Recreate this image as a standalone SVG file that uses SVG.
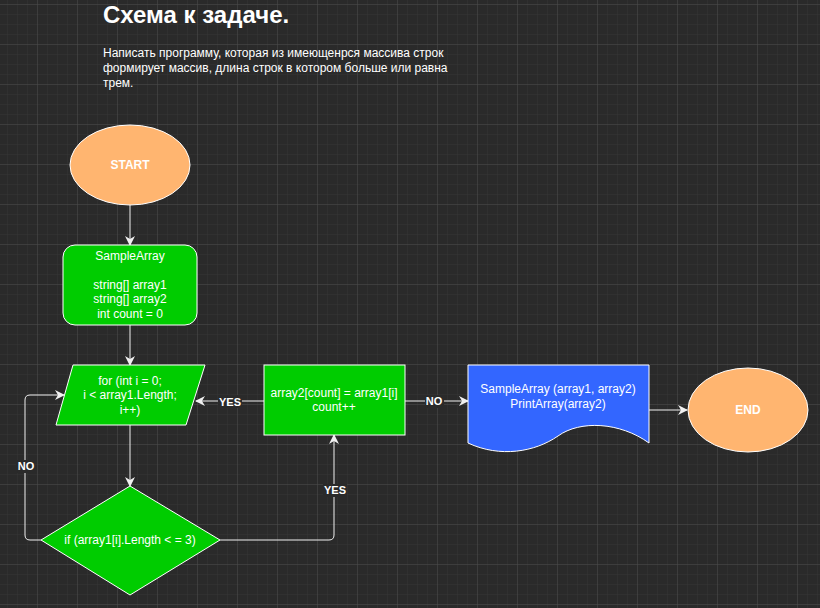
<svg xmlns="http://www.w3.org/2000/svg" width="820" height="608" viewBox="0 0 820 608">
<defs>
<pattern id="minor" x="-2" y="5" width="10" height="10" patternUnits="userSpaceOnUse">
<path d="M10 0V10M0 10H10" fill="none" stroke="#353535" stroke-width="1"/>
</pattern>
<pattern id="major" x="-2" y="5" width="40" height="40" patternUnits="userSpaceOnUse">
<path d="M40 0V40M0 40H40" fill="none" stroke="#4a4a4a" stroke-width="1"/>
</pattern>
<marker id="arr" viewBox="0 0 10 10" refX="9" refY="5" markerWidth="10" markerHeight="10" markerUnits="userSpaceOnUse" orient="auto">
<path d="M0 0L10 5L0 10L3 5Z" fill="#f0f0f0"/>
</marker>
<style>
text{font-family:"Liberation Sans",Arial,sans-serif;fill:#ffffff}
.n{stroke:#ffffff;stroke-width:1}
.g{fill:#00cc00}
.o{fill:#ffb570}
.t{font-size:12px;text-anchor:middle}
.b{font-weight:bold}
.c{fill:none;stroke:#f0f0f0;stroke-width:1;marker-end:url(#arr)}
.l{font-size:11px;font-weight:bold;text-anchor:middle}
.lb{fill:#2a2a2a}
</style>
</defs>
<rect width="820" height="608" fill="#2a2a2a"/>
<rect width="820" height="608" fill="url(#minor)"/>
<rect width="820" height="608" fill="url(#major)"/>

<g id="title">
<text x="103" y="23" style="font-size:24px;font-weight:bold">Схема к задаче.</text>
<text x="103" y="57" style="font-size:12px">Написать программу, которая из имеющенрся массива строк</text>
<text x="103" y="72" style="font-size:12px">формирует массив, длина строк в котором больше или равна</text>
<text x="103" y="87" style="font-size:12px">трем.</text>
</g>

<g id="connectors">
<path class="c" d="M130 205V245"/>
<path class="c" d="M130 325V365"/>
<path class="c" d="M130 425V486"/>
<path class="c" d="M264 401H196"/>
<path class="c" d="M405 401H468"/>
<path class="c" d="M649 410H687"/>
<path class="c" d="M41 540H30Q25 540 25 535V400Q25 395 30 395H64"/>
<path class="c" d="M220 540H329Q334 540 334 535V435"/>
<rect class="lb" x="218" y="395" width="24" height="13"/>
<text class="l" x="230" y="406">YES</text>
<rect class="lb" x="425" y="395" width="19" height="13"/>
<text class="l" x="434" y="405">NO</text>
<rect class="lb" x="16" y="460" width="19" height="13"/>
<text class="l" x="26" y="470">NO</text>
<rect class="lb" x="323" y="484" width="24" height="13"/>
<text class="l" x="335" y="494">YES</text>
</g>

<g id="start">
<ellipse class="n o" cx="130" cy="165" rx="60" ry="40"/>
<text class="t b" x="130" y="169">START</text>
</g>

<g id="init">
<rect class="n g" x="63" y="245" width="134" height="80" rx="12"/>
<text class="t" x="130" y="260">SampleArray</text>
<text class="t" x="130" y="289">string[] array1</text>
<text class="t" x="130" y="303">string[] array2</text>
<text class="t" x="130" y="318">int count = 0</text>
</g>

<g id="loop">
<path class="n g" d="M73 365H205L186 425H56Z"/>
<text class="t" x="130" y="385">for (int i = 0;</text>
<text class="t" x="130" y="399">i &lt; array1.Length;</text>
<text class="t" x="130" y="414">i++)</text>
</g>

<g id="assign">
<rect class="n g" x="264" y="365" width="141" height="70"/>
<text class="t" x="334" y="397">array2[count] = array1[i]</text>
<text class="t" x="334" y="411">count++</text>
</g>

<g id="output">
<path class="n" fill="#3366ff" d="M468 365H649V443C620 422 580 420 558 436C535 452 500 458 468 443Z"/>
<text class="t" x="558" y="393">SampleArray (array1, array2)</text>
<text class="t" x="558" y="408">PrintArray(array2)</text>
</g>

<g id="end">
<ellipse class="n o" cx="748" cy="410" rx="60" ry="42"/>
<text class="t b" x="748" y="414">END</text>
</g>

<g id="cond">
<path class="n g" d="M130 486L220 540L130 595L41 540Z"/>
<text class="t" x="130" y="544">if (array1[i].Length &lt; = 3)</text>
</g>
</svg>
